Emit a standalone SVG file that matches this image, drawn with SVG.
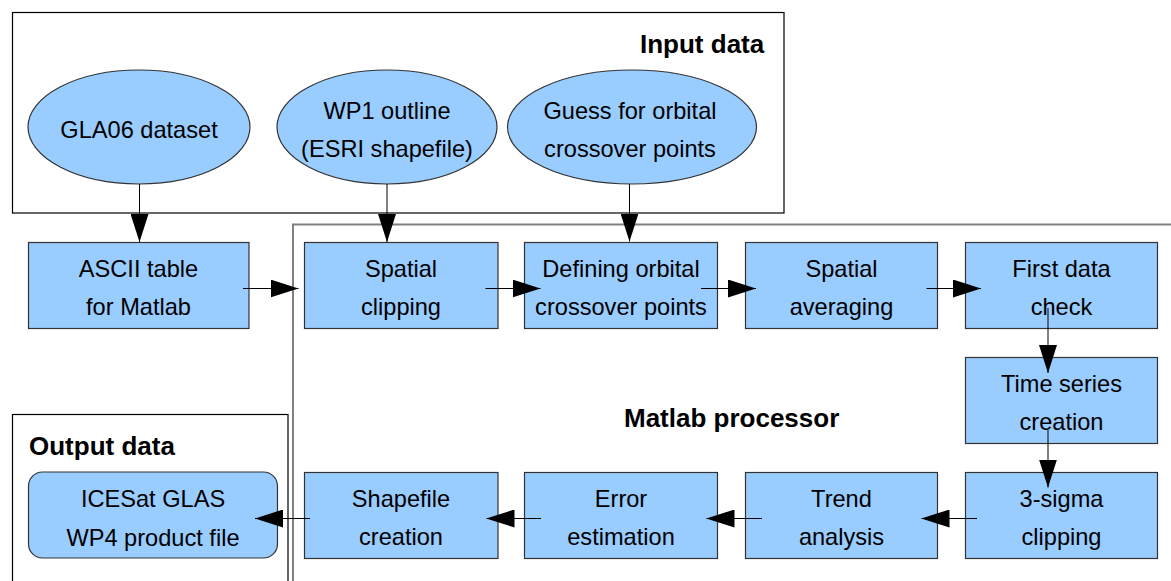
<svg xmlns="http://www.w3.org/2000/svg" width="1171" height="581" viewBox="0 0 1171 581">
  <defs>
    <style>
      .frame { fill: none; stroke: #000; stroke-width: 1.2; }
      .frame-gray { fill: none; stroke: #808080; stroke-width: 2; }
      .node { fill: #99ccff; stroke: #333; stroke-width: 1.2; }
      .label { font-family: "Liberation Sans", Arial, sans-serif; font-size: 23.6px; fill: #000; text-anchor: middle; }
      .title { font-family: "Liberation Sans", Arial, sans-serif; font-size: 26px; font-weight: bold; fill: #000; }
      .edge { stroke: #000; stroke-width: 1; fill: none; marker-end: url(#arrow); }
    </style>
    <marker id="arrow" markerUnits="userSpaceOnUse" markerWidth="28" markerHeight="18" refX="28" refY="9" orient="auto">
      <path d="M0,0 L28,9 L0,18 Z" fill="#000"/>
    </marker>
  </defs>

  <!-- group frames -->
  <g id="frames">
    <rect class="frame" x="12.5" y="12.5" width="771.5" height="200.5"/>
    <rect class="frame-gray" x="293" y="224.5" width="900" height="400"/>
    <rect class="frame" x="12.5" y="414.5" width="275.5" height="200"/>
    <text class="title" x="640" y="53">Input data</text>
    <text class="title" x="624" y="427">Matlab processor</text>
    <text class="title" x="29" y="455">Output data</text>
  </g>

  <!-- input nodes -->
  <g id="gla06">
    <ellipse class="node" cx="139" cy="127" rx="111" ry="57"/>
    <text class="label" x="139" y="137.5">GLA06 dataset</text>
  </g>
  <g id="wp1">
    <ellipse class="node" cx="387" cy="127" rx="110" ry="57"/>
    <text class="label" x="387" y="119">WP1 outline</text>
    <text class="label" x="387" y="157">(ESRI shapefile)</text>
  </g>
  <g id="guess">
    <ellipse class="node" cx="632" cy="127" rx="124.5" ry="57"/>
    <text class="label" x="630" y="119">Guess for orbital</text>
    <text class="label" x="630" y="157">crossover points</text>
  </g>

  <!-- processing nodes -->
  <g id="ascii">
    <rect class="node" x="28.5" y="242.5" width="220.5" height="86"/>
    <text class="label" x="138.5" y="277">ASCII table</text>
    <text class="label" x="138.5" y="315">for Matlab</text>
  </g>
  <g id="clip">
    <rect class="node" x="304.5" y="242.5" width="193.5" height="86"/>
    <text class="label" x="401" y="277">Spatial</text>
    <text class="label" x="401" y="315">clipping</text>
  </g>
  <g id="crossover">
    <rect class="node" x="524.5" y="242.5" width="193" height="86"/>
    <text class="label" x="621" y="277">Defining orbital</text>
    <text class="label" x="621" y="315">crossover points</text>
  </g>
  <g id="averaging">
    <rect class="node" x="745.5" y="242.5" width="192" height="86"/>
    <text class="label" x="841.5" y="277">Spatial</text>
    <text class="label" x="841.5" y="315">averaging</text>
  </g>
  <g id="check">
    <rect class="node" x="965.5" y="242.5" width="192" height="86"/>
    <text class="label" x="1061.5" y="277">First data</text>
    <text class="label" x="1061.5" y="315">check</text>
  </g>
  <g id="timeseries">
    <rect class="node" x="965.5" y="357.5" width="192" height="86"/>
    <text class="label" x="1061.5" y="391.5">Time series</text>
    <text class="label" x="1061.5" y="430">creation</text>
  </g>
  <g id="sigma">
    <rect class="node" x="965.5" y="472.5" width="192" height="86"/>
    <text class="label" x="1061.5" y="507">3-sigma</text>
    <text class="label" x="1061.5" y="545">clipping</text>
  </g>
  <g id="trend">
    <rect class="node" x="745.5" y="472.5" width="192" height="86"/>
    <text class="label" x="841.5" y="507">Trend</text>
    <text class="label" x="841.5" y="545">analysis</text>
  </g>
  <g id="error">
    <rect class="node" x="524.5" y="472.5" width="193" height="86"/>
    <text class="label" x="621" y="507">Error</text>
    <text class="label" x="621" y="545">estimation</text>
  </g>
  <g id="shapefile">
    <rect class="node" x="304.5" y="472.5" width="193.5" height="86"/>
    <text class="label" x="401" y="507">Shapefile</text>
    <text class="label" x="401" y="545">creation</text>
  </g>

  <!-- output node -->
  <g id="product">
    <rect class="node" x="28.5" y="472" width="249" height="86" rx="14" ry="14"/>
    <text class="label" x="153" y="507">ICESat GLAS</text>
    <text class="label" x="153" y="545.5">WP4 product file</text>
  </g>

  <!-- connectors -->
  <g id="connectors">
    <line class="edge" x1="139.5" y1="184" x2="139.5" y2="242"/>
    <line class="edge" x1="387" y1="184" x2="387" y2="242"/>
    <line class="edge" x1="629.5" y1="184" x2="629.5" y2="241.5"/>
    <line class="edge" x1="243" y1="288.5" x2="298.5" y2="288.5"/>
    <line class="edge" x1="485.5" y1="288.5" x2="540.5" y2="288.5"/>
    <line class="edge" x1="701" y1="288.5" x2="756" y2="288.5"/>
    <line class="edge" x1="926.5" y1="288.5" x2="981" y2="288.5"/>
    <line class="edge" x1="1048" y1="308" x2="1048" y2="373"/>
    <line class="edge" x1="1048" y1="430" x2="1048" y2="487.5"/>
    <line class="edge" x1="977" y1="518.5" x2="921.5" y2="518.5"/>
    <line class="edge" x1="762" y1="518.5" x2="706.5" y2="518.5"/>
    <line class="edge" x1="541" y1="518.5" x2="486.5" y2="518.5"/>
    <line class="edge" x1="310" y1="518.5" x2="255" y2="518.5"/>
  </g>
</svg>
